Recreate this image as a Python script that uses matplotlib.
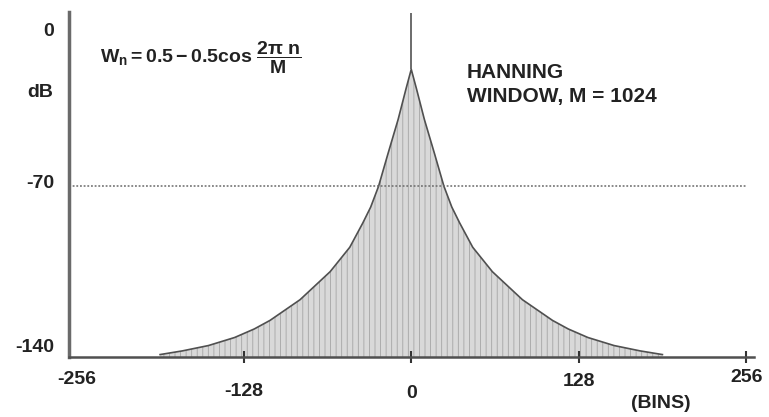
import numpy as np
import matplotlib.pyplot as plt

plt.rcParams['font.family'] = ['Liberation Sans', 'DejaVu Sans']
plt.rcParams['mathtext.fontset'] = 'custom'
plt.rcParams['mathtext.rm'] = 'Liberation Sans'
plt.rcParams['mathtext.bf'] = 'Liberation Sans:bold'
plt.rcParams['mathtext.it'] = 'Liberation Sans:italic'
plt.rcParams['hatch.linewidth'] = 0.6

# envelope of the window spectrum (one side, mirrored)
bins_env = [0, 4, 10, 18, 25, 31, 37, 47, 62, 85, 108, 120, 135, 155, 175, 192]
db_env = [-22, -30, -42.5, -57, -70, -78.5, -85, -95, -105, -116.5, -125, -128.5,
          -132, -135.3, -137.5, -139]
peak_db = 0
ref_db = -70
floor_db = -140

xtick_vals = [-256, -128, 0, 128, 256]
xtick_text = ['-256', '-128', '0', '128', '256']
xtick_drop = [23, 35, 36, 25, 20]   # label drop below axis, px
ytick_vals = [0, -70, -140]
ytick_text = ['0', '-70', '-140']
ytick_shift = [-15.5, 3, 9]

# mirror to both sides of bin 0
b = np.array(bins_env, dtype=float)
d = np.array(db_env, dtype=float)
x = np.concatenate([-b[::-1], b[1:]])
y = np.concatenate([d[::-1], d[1:]])

fig = plt.figure(figsize=(7.69, 4.17), dpi=100)
ax = fig.add_axes([68.5 / 769, 60 / 417, 685.5 / 769, 345 / 417])
ax.set_xlim(-262, 262)
ax.set_ylim(floor_db, 1.5)

ax.fill_between(x, y, floor_db, facecolor='#d9d9d9', edgecolor='#a5a5a5',
                hatch='|||', linewidth=0)
ax.plot(x, y, color='#505050', lw=1.2)
ax.vlines(0, db_env[0], peak_db + 1, colors='#606060', lw=1.3)
ax.hlines(ref_db, -262, 256, colors='#6a6a6a', linestyles=(0, (1.2, 1.2)), lw=1.1)

for s in ['top', 'right']:
    ax.spines[s].set_visible(False)
ax.spines['left'].set_color('#6a6a6a')
ax.spines['left'].set_linewidth(2.5)
ax.spines['bottom'].set_color('#505050')
ax.spines['bottom'].set_linewidth(1.8)

ax.set_xticks(xtick_vals)
ax.tick_params(axis='x', direction='inout', length=9, width=1.5, color='#333333',
               labelbottom=False)
ax.xaxis.get_major_ticks()[0].tick1line.set_visible(False)
ax.set_yticks([])

for v, t, dr in zip(xtick_vals, xtick_text, xtick_drop):
    ax.annotate(t, xy=(v, 0), xycoords=('data', 'axes fraction'),
                xytext=(0, -dr), textcoords='offset pixels',
                ha='center', va='center', fontsize=14, fontweight='bold', color='#222222')

for v, t, sh in zip(ytick_vals, ytick_text, ytick_shift):
    ax.annotate(t, xy=(0, v), xycoords=('axes fraction', 'data'),
                xytext=(-14, sh), textcoords='offset pixels',
                ha='right', va='center', fontsize=14, fontweight='bold', color='#222222')

ax.text(-0.0416, 0.768, 'dB', transform=ax.transAxes, ha='center', va='center',
        fontsize=14, fontweight='bold', color='#222222')
ax.text(0.864, -0.136, '(BINS)', transform=ax.transAxes, ha='center', va='center',
        fontsize=14, fontweight='bold', color='#222222')

ax.text(0.193, 0.867,
        r'$\mathbf{W_n = 0.5 - 0.5cos}\ \dfrac{\mathbf{2\pi\ n}}{\mathbf{M}}$',
        transform=ax.transAxes, ha='center', va='center', fontsize=14, color='#222222')
ax.text(0.581, 0.79, 'HANNING\nWINDOW, M = 1024', transform=ax.transAxes,
        ha='left', va='center', fontsize=15, fontweight='bold', linespacing=1.3,
        color='#222222')

fig.savefig('out.png', dpi=100)
